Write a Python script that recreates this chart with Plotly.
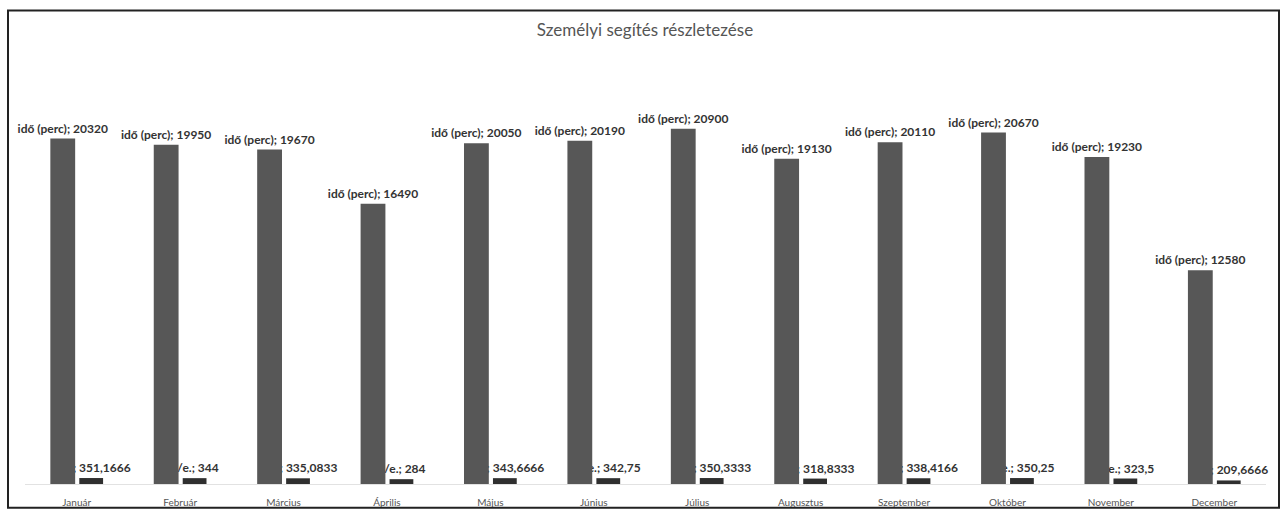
import plotly.graph_objects as go

months = ["Január", "Február", "Március", "Április", "Május", "Június",
          "Július", "Augusztus", "Szeptember", "Október", "November", "December"]
ido_perc = [20320, 19950, 19670, 16490, 20050, 20190, 20900, 19130, 20110, 20670, 19230, 12580]
atlag = [351.1666, 344, 335.0833, 284, 343.6666, 342.75, 350.3333, 318.8333,
         338.4166, 350.25, 323.5, 209.6666]

big_name = "idő (perc)"
small_name = "ó/e."


def hu(v):
    s = ("%.4f" % v).rstrip("0").rstrip(".")
    return s.replace(".", ",")


big_text = [f"{big_name}; {v}" for v in ido_perc]
small_text = [f"{small_name}; {hu(v)}" for v in atlag]

W, H = 1288, 520
ML, MT, MB = 25, 60, 31
plot_w = 1241
MR = W - ML - plot_w
plot_h = H - MT - MB

lab_font = dict(family="Lato", size=12, color="#333333", weight="bold")

fig = go.Figure()
# small series first so the big bars (drawn later) cover the left part of its labels
fig.add_trace(go.Bar(
    x=months, y=atlag, name=small_name,
    offset=0.025, width=0.23,
    marker=dict(color="#2f2f2f", line=dict(width=0)),
    text=small_text, textposition="outside", constraintext="none",
    cliponaxis=False, textfont=lab_font, hoverinfo="skip",
))
fig.add_trace(go.Bar(
    x=months, y=ido_perc, name=big_name,
    offset=-0.255, width=0.24,
    marker=dict(color="#575757", line=dict(width=0)),
    text=big_text, textposition="outside", constraintext="none",
    cliponaxis=False, textfont=lab_font, hoverinfo="skip",
))


def px_x(p):
    return (p - ML) / plot_w


def px_y(p):
    return (H - MB - p) / plot_h


# chart border
fig.add_shape(type="rect", xref="paper", yref="paper",
              x0=px_x(8), x1=px_x(1279), y0=px_y(513), y1=px_y(10),
              line=dict(color="#222222", width=2), fillcolor="rgba(0,0,0,0)",
              layer="above")

fig.update_layout(
    width=W, height=H,
    margin=dict(l=ML, r=MR, t=MT, b=MB),
    paper_bgcolor="white", plot_bgcolor="white",
    barmode="overlay", showlegend=False,
    title=dict(text="Személyi segítés részletezése", x=645 / W, xanchor="center",
               xref="container", yref="container", y=1 - 30 / H, yanchor="middle",
               font=dict(family="Lato", size=17, color="#555555")),
    font=dict(family="Lato"),
    xaxis=dict(type="category", range=[-0.5, 11.5], showgrid=False, zeroline=False,
               showline=True, linecolor="#e2e2e2", linewidth=1,
               ticks="outside", ticklen=9, tickcolor="rgba(0,0,0,0)",
               tickfont=dict(family="Lato", size=10, color="#555555")),
    yaxis=dict(range=[0, plot_h / 0.0172], showgrid=False, zeroline=False,
               showline=False, showticklabels=False, ticks=""),
)

fig.write_html(
    "out.html",
    config={"displayModeBar": False},
    post_script=("document.body.style.margin='0';"
                 "document.body.style.overflow='hidden';"
                 "document.documentElement.style.overflow='hidden';"),
)
